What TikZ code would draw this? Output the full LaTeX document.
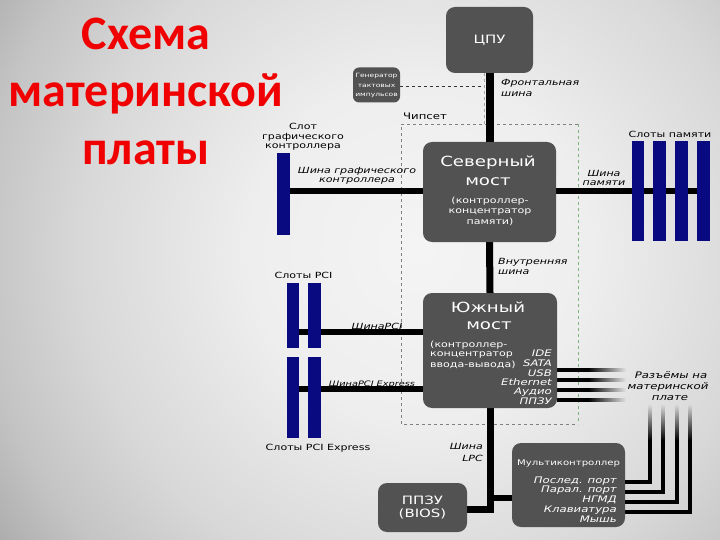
\documentclass[tikz,border=0pt]{standalone}
\usepackage{fontspec}
\setmainfont{DejaVu Sans}[FakeStretch=1.3]
\newfontfamily\titlefont{Carlito}
\usetikzlibrary{fadings}
\definecolor{bgA}{HTML}{F4F4F4}
\definecolor{bgB}{HTML}{EEEEEE}
\definecolor{bgC}{HTML}{D8D8D8}
\definecolor{bgD}{HTML}{C4C4C4}
\definecolor{bgE}{HTML}{9C9C9C}
\definecolor{bgF}{HTML}{8A8A8A}
\definecolor{boxgray}{HTML}{525252}
\definecolor{slotblue}{HTML}{0A0A80}
\definecolor{titlered}{RGB}{240,0,0}
\definecolor{chipgreen}{HTML}{7FB27F}
\pgfdeclareradialshading{bgshade}{\pgfpoint{0bp}{0bp}}{color(0bp)=(bgA); color(8.5bp)=(bgB); color(17bp)=(bgC); color(22bp)=(bgD); color(28.3bp)=(bgE); color(40bp)=(bgF)}
\pgfdeclarelayer{back}
\pgfdeclarelayer{wires}
\pgfsetlayers{back,wires,main}
\newcommand\myfs[1]{\fontsize{#1}{#1}\selectfont}
\tikzset{
  box/.style={fill=boxgray, rounded corners=9pt, text=white, inner sep=0pt, align=center},
  slot/.style={fill=slotblue, inner sep=0pt},
  bus/.style={line width=6pt},
  port/.style={line width=4pt},
  lbl/.style={inner sep=0pt, font=\myfs{8.5}},
  ilbl/.style={inner sep=0pt, font=\myfs{8.5}\itshape},
  wtxt/.style={inner sep=0pt, text=white},
  ttl/.style={inner sep=0pt, anchor=base, text=titlered, font=\titlefont\bfseries\myfs{48}}
}
\begin{document}
\begin{tikzpicture}[x=1pt,y=-1pt]
\useasboundingbox (0,0) rectangle (720,540);
\begin{pgfonlayer}{back}
  \begin{scope}
    \clip (0,0) rectangle (720,540);
    \shade[shading=bgshade] (-80,-250) rectangle (920,750);
  \end{scope}
  % chipset dashed frame
  \draw[gray, dashed, line width=0.6pt] (578,124) -- (401,124) -- (401,424) -- (578,424);
  \draw[chipgreen, dashed, line width=0.8pt] (578,124) -- (578,424);
\end{pgfonlayer}

% title
\node[ttl] (t1) at (146,50) {Схема};
\node[ttl] (t2) at (146,107) {материнской};
\node[ttl] (t3) at (146,165) {платы};

% boxes
\node[box, minimum width=87pt, minimum height=66pt, font=\myfs{11.5}] (cpu) at (489.5,40) {ЦПУ};
\node[box, rounded corners=6pt, minimum width=47pt, minimum height=35pt] (gen) at (376.5,85) {};
\node[wtxt, font=\myfs{5.8}] (g1) at (376.5,76) {Генератор};
\node[wtxt, font=\myfs{5.8}] (g2) at (376.5,86) {тактовых};
\node[wtxt, font=\myfs{5.8}] (g3) at (376.5,95) {импульсов};

\node[box, minimum width=133pt, minimum height=100pt] (nb) at (489.5,192) {};
\node[wtxt, font=\myfs{14}] (nb1) at (488,163) {Северный};
\node[wtxt, font=\myfs{14}] (nb2) at (488,182) {мост};
\node[wtxt, font=\myfs{8.5}] (nb3) at (490,201) {(контроллер-};
\node[wtxt, font=\myfs{8.5}] (nb4) at (490,212) {концентратор};
\node[wtxt, font=\myfs{8.5}] (nb5) at (490,222) {памяти)};

\node[box, minimum width=134pt, minimum height=115pt] (sb) at (490,350.5) {};
\node[wtxt, font=\myfs{14}] (sb1) at (488,307) {Южный};
\node[wtxt, font=\myfs{14}] (sb2) at (489,326) {мост};
\node[wtxt, font=\myfs{8.5}, anchor=west] (sb3) at (430,345) {(контроллер-};
\node[wtxt, font=\myfs{8.5}, anchor=west] (sb4) at (430,355) {концентратор};
\node[wtxt, font=\myfs{8.5}, anchor=west] (sb5) at (430,365) {ввода-вывода)};
\node[wtxt, font=\myfs{9}\itshape, anchor=east] (p1) at (552,353) {IDE};
\node[wtxt, font=\myfs{9}\itshape, anchor=east] (p2) at (552,363) {SATA};
\node[wtxt, font=\myfs{9}\itshape, anchor=east] (p3) at (552,373) {USB};
\node[wtxt, font=\myfs{9}\itshape, anchor=east] (p4) at (552,382) {Ethernet};
\node[wtxt, font=\myfs{9}\itshape, anchor=east] (p5) at (552,392) {Аудио};
\node[wtxt, font=\myfs{9}\itshape, anchor=east] (p6) at (552,401) {ППЗУ};

\node[box, minimum width=113pt, minimum height=84pt] (mc) at (568.5,485) {};
\node[wtxt, font=\myfs{7.8}, anchor=west] (mc0) at (517,463) {Мультиконтроллер};
\node[wtxt, font=\myfs{9}\itshape, anchor=east] (m1) at (617,481) {Послед. порт};
\node[wtxt, font=\myfs{9}\itshape, anchor=east] (m2) at (617,490) {Парал. порт};
\node[wtxt, font=\myfs{9}\itshape, anchor=east] (m3) at (617,500) {НГМД};
\node[wtxt, font=\myfs{9}\itshape, anchor=east] (m4) at (617,510) {Клавиатура};
\node[wtxt, font=\myfs{9}\itshape, anchor=east] (m5) at (617,519) {Мышь};

\node[box, minimum width=89pt, minimum height=49pt, font=\myfs{11.5}] (bios) at (422.5,507.5) {ППЗУ\\[2pt](BIOS)};

% slots
\node[slot, minimum width=13pt, minimum height=82pt] (gslot) at (283.5,194) {};
\node[slot, minimum width=12pt, minimum height=65pt] (pci1) at (293,315.5) {};
\node[slot, minimum width=13pt, minimum height=65pt] (pci2) at (314.5,315.5) {};
\node[slot, minimum width=12pt, minimum height=81pt] (pcie1) at (293,397.5) {};
\node[slot, minimum width=13pt, minimum height=81pt] (pcie2) at (314.5,397.5) {};
\node[slot, minimum width=12pt, minimum height=100pt] (mem1) at (638,191) {};
\node[slot, minimum width=13pt, minimum height=100pt] (mem2) at (659.5,191) {};
\node[slot, minimum width=13pt, minimum height=100pt] (mem3) at (681.5,191) {};
\node[slot, minimum width=13pt, minimum height=100pt] (mem4) at (703.5,191) {};

% labels
\node[ilbl, anchor=west] (fb1) at (501,83) {Фронтальная};
\node[ilbl, anchor=west] (fb2) at (501,94) {шина};
\node[lbl, font=\myfs{9}, anchor=west] (chip) at (403,116) {Чипсет};
\node[lbl] (gs1) at (303,126) {Слот};
\node[lbl] (gs2) at (303,137) {графического};
\node[lbl] (gs3) at (303,147) {контроллера};
\node[ilbl] (gb1) at (357,171) {Шина графического};
\node[ilbl] (gb2) at (357,181) {контроллера};
\node[ilbl] (mb1) at (604,173) {Шина};
\node[ilbl] (mb2) at (604,183) {памяти};
\node[lbl] (ms) at (670,134) {Слоты памяти};
\node[ilbl, anchor=west] (ib1) at (498,262) {Внутренняя};
\node[ilbl, anchor=west] (ib2) at (498,272) {шина};
\node[lbl] (ps) at (303.5,275) {Слоты PCI};
\node[ilbl] (pb) at (377,326) {ШинаPCI};
\node[ilbl, font=\myfs{7.5}\itshape] (peb) at (372,384) {ШинаPCI Express};
\node[lbl] (pes) at (318,448) {Слоты PCI Express};
\node[ilbl, anchor=east] (lpc1) at (483,446) {Шина};
\node[ilbl, anchor=east] (lpc2) at (483,458) {LPC};
\node[ilbl, font=\myfs{9}\itshape] (c1) at (671,375) {Разъёмы на};
\node[ilbl, font=\myfs{9}\itshape] (c2) at (668,387) {материнской};
\node[ilbl, font=\myfs{9}\itshape] (c3) at (670,398) {плате};

% connectors
\begin{pgfonlayer}{wires}
  \draw[gray!40!black, dashed, line width=0.6pt] (gen.east |- 0,86) -- (484,86);
  \draw[gray!70, dashed, line width=0.6pt] (cpu.south -| 484,0) -- (484,124);
  \draw[bus, line width=8pt] (cpu.south) -- (nb.north);
  \draw[bus, line width=7pt] (nb.south) -- (sb.north);
  \draw[bus] (gslot.center |- 0,191) -- (nb.west |- 0,191);
  \draw[bus] (nb.east |- 0,191) -- (mem4.center |- 0,191);
  \draw[bus] (pci1.center |- 0,332) -- (sb.west |- 0,332);
  \draw[bus] (pcie1.center |- 0,389) -- (sb.west |- 0,389);
  \draw[bus, line width=7pt] (sb.south) -- (sb.south |- 0,509) -- (bios.east |- 0,509);
  \draw[bus] (sb.south |- 0,498) -- (mc.west |- 0,498);
  \foreach \yy in {370,380,390,400} {
    \fill (sb.east |- 0,\yy-2) rectangle (588,\yy+2);
    \fill[path fading=east] (588,\yy-2) rectangle (626,\yy+2);
  }
  \foreach \yy/\xx in {482/650, 492/663, 502/677, 512/690} {
    \draw[port] (mc.east |- 0,\yy) -- (\xx,\yy) -- (\xx,440);
    \fill[path fading=north] (\xx-2,404) rectangle (\xx+2,440.5);
  }
\end{pgfonlayer}
\end{tikzpicture}
\end{document}
